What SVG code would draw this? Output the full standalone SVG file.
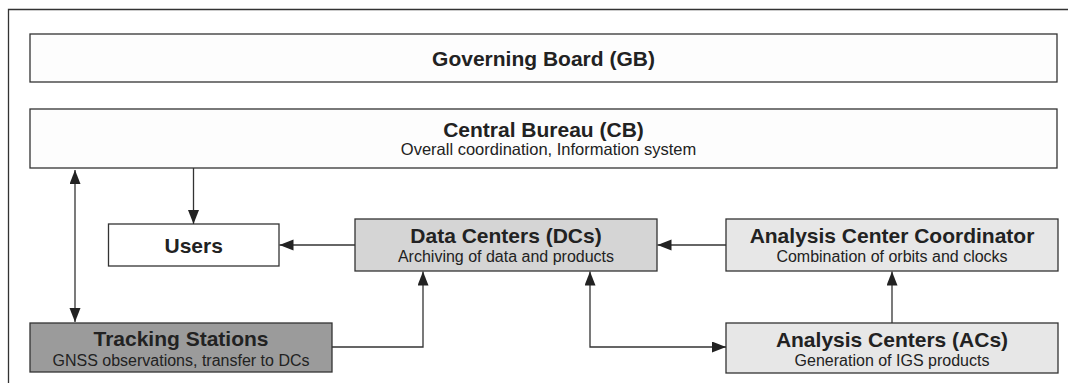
<svg xmlns="http://www.w3.org/2000/svg" width="1072" height="389" viewBox="0 0 1072 389">
<style>
.box{stroke:#333;stroke-width:1.3}
.t{font-family:"Liberation Sans",Arial,sans-serif;font-weight:bold;font-size:21px;fill:#222;text-anchor:middle}
.s{font-family:"Liberation Sans",Arial,sans-serif;font-size:16px;fill:#222;text-anchor:middle}
.c{fill:none;stroke:#333;stroke-width:1.3}
</style>
<defs>
<marker id="ah" markerUnits="userSpaceOnUse" markerWidth="16" markerHeight="12" refX="14" refY="5.5" orient="auto-start-reverse" viewBox="0 0 16 12">
<path d="M0,0 L14,5.5 L0,11 z" fill="#222"/>
</marker>
</defs>
<rect width="1072" height="389" fill="#fff"/>
<g id="frame" fill="none" stroke="#333" stroke-width="1.3">
<path d="M8.5,383 V9.5 H1068"/>
</g>
<g id="gb">
<rect class="box" x="30" y="34" width="1027" height="48" fill="#fdfdfd"/>
<text class="t" x="543.5" y="65.5">Governing Board (GB)</text>
</g>
<g id="cb">
<rect class="box" x="30" y="109" width="1027" height="59" fill="#fdfdfd"/>
<text class="t" x="543.5" y="136.5">Central Bureau (CB)</text>
<text class="s" x="548.5" y="155" style="font-size:16.5px">Overall coordination, Information system</text>
</g>
<g id="users">
<rect class="box" x="108.5" y="224" width="170.5" height="42" fill="#fff"/>
<text class="t" x="193.7" y="252.5">Users</text>
</g>
<g id="dc">
<rect class="box" x="355" y="219" width="302" height="52" fill="#d5d5d5"/>
<text class="t" x="506" y="242.7">Data Centers (DCs)</text>
<text class="s" x="506" y="262.3">Archiving of data and products</text>
</g>
<g id="acc">
<rect class="box" x="726" y="219" width="332" height="52" fill="#e7e7e7"/>
<text class="t" x="892" y="243.3">Analysis Center Coordinator</text>
<text class="s" x="892" y="262.3">Combination of orbits and clocks</text>
</g>
<g id="ts">
<rect class="box" x="30" y="323" width="302" height="49" fill="#9b9b9b"/>
<text class="t" x="181" y="345.7">Tracking Stations</text>
<text class="s" x="181" y="365.7">GNSS observations, transfer to DCs</text>
</g>
<g id="acs">
<rect class="box" x="726" y="323" width="332" height="50" fill="#e7e7e7"/>
<text class="t" x="892" y="346.7">Analysis Centers (ACs)</text>
<text class="s" x="892" y="365.7">Generation of IGS products</text>
</g>
<g id="connectors">
<path class="c" d="M75,170 V322" marker-start="url(#ah)" marker-end="url(#ah)"/>
<path class="c" d="M193.5,168 V224" marker-end="url(#ah)"/>
<path class="c" d="M355,245 H279.5" marker-end="url(#ah)"/>
<path class="c" d="M726,245 H657.5" marker-end="url(#ah)"/>
<path class="c" d="M332,347 H423 V271.5" marker-end="url(#ah)"/>
<path class="c" d="M590,271.5 V347 H726" marker-start="url(#ah)" marker-end="url(#ah)"/>
<path class="c" d="M892,323 V271.5" marker-end="url(#ah)"/>
</g>
</svg>
